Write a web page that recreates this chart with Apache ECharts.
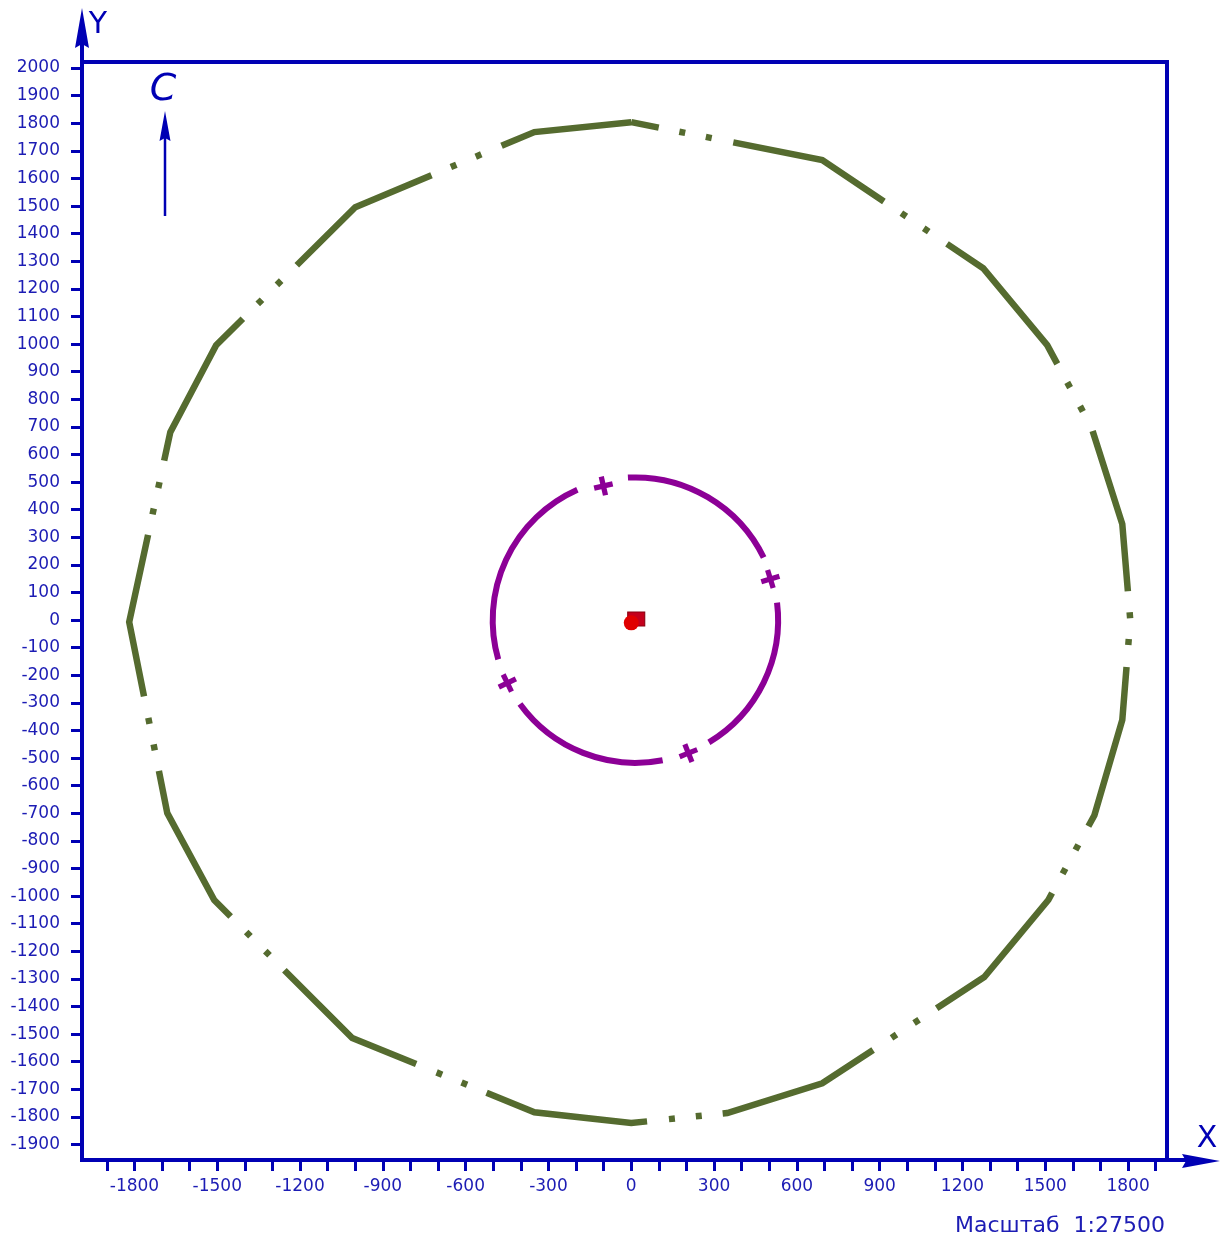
<!DOCTYPE html>
<html><head><meta charset="utf-8">
<script src="https://cdn.jsdelivr.net/npm/echarts@6/dist/echarts.min.js"></script>
<style>html,body{margin:0;padding:0;background:#fff}#c{width:1227px;height:1238px}</style>
</head><body><div id="c"></div>
<script>
// ---- data ----
const xTickValues = [-1900,-1800,-1700,-1600,-1500,-1400,-1300,-1200,-1100,-1000,-900,-800,-700,-600,-500,-400,-300,-200,-100,0,100,200,300,400,500,600,700,800,900,1000,1100,1200,1300,1400,1500,1600,1700,1800,1900];
const xLabelValues = [-1800,-1500,-1200,-900,-600,-300,0,300,600,900,1200,1500,1800];
const yTickValues = [-1900,-1800,-1700,-1600,-1500,-1400,-1300,-1200,-1100,-1000,-900,-800,-700,-600,-500,-400,-300,-200,-100,0,100,200,300,400,500,600,700,800,900,1000,1100,1200,1300,1400,1500,1600,1700,1800,1900,2000];

// outer contour (closed polyline)
const contourX = [0, 692, 1275, 1507, 1667, 1779, 1808, 1779, 1678, 1511, 1279, 692, 348, 0, -351, -1011, -1511, -1681, -1819, -1670, -1504, -1000, -351, 0];
const contourY = [1804, 1667, 1275, 996, 699, 348, 0, -362, -707, -1014, -1293, -1678, -1786, -1822, -1783, -1514, -1014, -699, -7, 681, 996, 1496, 1768, 1804];

// inner circle: centre, radius, visible arcs (degrees, counter-clockwise from +X)
const circleCenter = [15, 0];
const circleRadius = 517;
const circleArcs = [[26, 93], [114, 196], [216, 281], [301, 367]];

// cross marks on the circle: x, y, rotation
const crossX = [-101, 504, 207, -449];
const crossY = [486, 149, -482, -228];
const crossRot = [13, 17, 22, 26];

// centre point
const centreCircle = [[0, -10]];
const centreSquare = [[18, 4]];

// ---- chart ----
const BLUE = '#0000b4';
const TXT = '#1c1cb4';
const GREEN = '#556b2f';
const PURPLE = '#8c0096';
const FONT = 'DejaVu Sans';

const chart = echarts.init(document.getElementById('c'), null, {renderer: 'canvas'});

const contourData = contourX.map((x, i) => [x, contourY[i]]);
const crossData = crossX.map((x, i) => [x, crossY[i], crossRot[i]]);
const arcData = circleArcs.map(a => [circleCenter[0], circleCenter[1], circleRadius, a[0], a[1]]);

const plusPath = 'path://M6.5,0 L11.5,0 L11.5,6.5 L18,6.5 L18,11.5 L11.5,11.5 L11.5,18 L6.5,18 L6.5,11.5 L0,11.5 L0,6.5 L6.5,6.5 Z';
const plain = v => String(v);

chart.setOption({
  animation: false,
  backgroundColor: '#ffffff',
  grid: {
    left: 82, top: 62, right: 60, bottom: 78,
    show: true, borderColor: BLUE, borderWidth: 4, backgroundColor: 'transparent',
    outerBoundsMode: 'none', containLabel: false
  },
  xAxis: {
    type: 'value', min: -1990, max: 1941, position: 'bottom',
    axisLine: {show: false, onZero: false},
    axisTick: {show: true, customValues: xTickValues, length: 11, inside: false, lineStyle: {color: BLUE, width: 3}},
    axisLabel: {customValues: xLabelValues, formatter: plain, margin: 18, color: TXT, fontSize: 17, fontFamily: FONT},
    splitLine: {show: false}
  },
  yAxis: {
    type: 'value', min: -1956, max: 2022, position: 'left',
    axisLine: {show: false, onZero: false},
    axisTick: {show: true, customValues: yTickValues, length: 11, inside: false, lineStyle: {color: BLUE, width: 3}},
    axisLabel: {customValues: yTickValues, formatter: plain, margin: 22, color: TXT, fontSize: 17, fontFamily: FONT},
    splitLine: {show: false}
  },
  series: [
    {
      type: 'line', data: contourData, showSymbol: false, silent: true,
      lineStyle: {color: GREEN, width: 6.5, type: [165, 21, 6, 21, 6, 22], dashOffset: 137, cap: 'butt', join: 'miter'},
      z: 3
    },
    {
      type: 'custom', data: arcData, silent: true, z: 4,
      renderItem: function (params, api) {
        const c = api.coord([api.value(0), api.value(1)]);
        const r = api.size([api.value(2), 0])[0];
        const a1 = api.value(3) * Math.PI / 180, a2 = api.value(4) * Math.PI / 180;
        return {
          type: 'arc',
          shape: {cx: c[0], cy: c[1], r: r, startAngle: -a1, endAngle: -a2, clockwise: false},
          style: {stroke: PURPLE, lineWidth: 6, fill: null, lineCap: 'butt'}
        };
      }
    },
    {
      type: 'scatter', data: crossData, silent: true, z: 5,
      symbol: plusPath, symbolSize: 19, symbolKeepAspect: true,
      symbolRotate: function (v) { return v[2]; },
      itemStyle: {color: PURPLE, opacity: 1}
    },
    {
      type: 'scatter', data: centreSquare, silent: true, z: 6,
      symbol: 'rect', symbolSize: [17, 14],
      itemStyle: {color: '#c4001c', borderColor: '#8a0010', borderWidth: 1, opacity: 1}
    },
    {
      type: 'scatter', data: centreCircle, silent: true, z: 7,
      symbol: 'circle', symbolSize: 15,
      itemStyle: {color: '#e00000', opacity: 1}
    }
  ],
  graphic: [
    {type: 'line', shape: {x1: 82, y1: 64, x2: 82, y2: 38}, style: {stroke: BLUE, lineWidth: 4}, silent: true},
    {type: 'polygon', shape: {points: [[82, 8], [75, 48], [82, 44], [89, 48]]}, style: {fill: BLUE}, silent: true},
    {type: 'line', shape: {x1: 1165, y1: 1160, x2: 1190, y2: 1160}, style: {stroke: BLUE, lineWidth: 4}, silent: true},
    {type: 'polygon', shape: {points: [[1220, 1161], [1182, 1154], [1186, 1161], [1182, 1168]]}, style: {fill: BLUE}, silent: true},
    {type: 'text', x: 98, y: 25, style: {text: 'Y', fill: BLUE, font: '30px "DejaVu Sans"', align: 'center', verticalAlign: 'middle'}, silent: true},
    {type: 'text', x: 1207, y: 1139, style: {text: 'X', fill: BLUE, font: '30px "DejaVu Sans"', align: 'center', verticalAlign: 'middle'}, silent: true},
    {type: 'text', x: 163, y: 90, style: {text: 'C', fill: BLUE, font: 'italic 38px "DejaVu Sans"', align: 'center', verticalAlign: 'middle'}, silent: true},
    {type: 'line', shape: {x1: 165, y1: 216, x2: 165, y2: 136}, style: {stroke: BLUE, lineWidth: 2.5}, silent: true},
    {type: 'polygon', shape: {points: [[165, 111], [159.5, 141], [165, 138], [170.5, 141]]}, style: {fill: BLUE}, silent: true},
    {type: 'text', x: 1165, y: 1226, style: {text: 'Масштаб  1:27500', fill: TXT, font: '22px "DejaVu Sans"', align: 'right', verticalAlign: 'middle'}, silent: true}
  ]
});
</script>
</body></html>
